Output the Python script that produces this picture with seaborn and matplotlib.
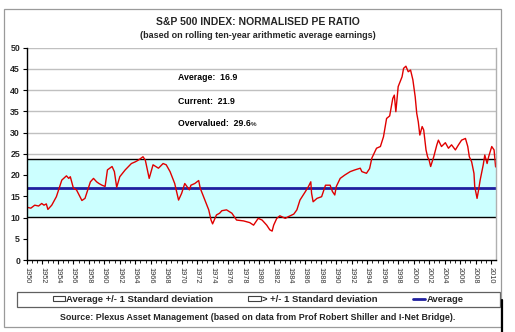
import matplotlib
matplotlib.use("Agg")
import matplotlib.pyplot as plt
from matplotlib.patches import Patch, Rectangle
from matplotlib.lines import Line2D
from matplotlib.ticker import MultipleLocator
import numpy as np
import pandas as pd
import seaborn as sns

# Normalised PE ratio of the S&P 500 (price / rolling ten-year average earnings)
years = [
    1950.0, 1950.5, 1951.0, 1951.5, 1951.9, 1952.2, 1952.5, 1952.7, 1953.2, 1953.8,
    1954.5, 1955.1, 1955.4, 1955.6, 1956.0, 1956.4, 1957.1, 1957.5, 1958.2, 1958.6,
    1959.0, 1959.3, 1959.7, 1960.1, 1960.4, 1961.0, 1961.3, 1961.6, 1962.0, 1962.7,
    1963.5, 1964.0, 1964.4, 1965.0, 1965.3, 1965.8, 1966.3, 1967.0, 1967.6, 1968.0,
    1968.5, 1969.1, 1969.6, 1970.0, 1970.4, 1971.0, 1971.2, 1971.7, 1972.2, 1972.4,
    1973.0, 1973.5, 1973.8, 1974.0, 1974.5, 1974.9, 1975.2, 1975.8, 1976.5, 1977.1,
    1978.0, 1978.8, 1979.3, 1979.9, 1980.4, 1981.0, 1981.4, 1981.7, 1981.9, 1982.3,
    1982.7, 1983.4, 1983.8, 1984.5, 1984.9, 1985.3, 1986.0, 1986.4, 1986.7, 1986.8,
    1987.0, 1987.5, 1988.1, 1988.6, 1989.2, 1989.5, 1989.8, 1990.0, 1990.5, 1991.1,
    1991.8, 1992.4, 1993.1, 1993.3, 1993.9, 1994.3, 1994.6, 1995.2, 1995.7, 1996.1,
    1996.5, 1996.9, 1997.3, 1997.5, 1997.7, 1998.0, 1998.5, 1998.7, 1999.0, 1999.3,
    1999.6, 1999.9, 2000.2, 2000.4, 2000.6, 2000.8, 2001.1, 2001.3, 2001.6, 2001.8,
    2002.0, 2002.2, 2002.6, 2003.0, 2003.2, 2003.6, 2004.1, 2004.5, 2004.9, 2005.4,
    2005.8, 2006.2, 2006.7, 2007.0, 2007.2, 2007.5, 2007.8, 2007.9, 2008.2, 2008.4,
    2008.6, 2009.0, 2009.2, 2009.5, 2009.7, 2010.1, 2010.4, 2010.6,
]
pe_ratio = [
    12.4, 12.2, 12.9, 12.7, 13.3, 12.9, 13.2, 11.9, 12.9, 14.9,
    18.8, 19.8, 19.2, 19.6, 16.9, 16.5, 14.0, 14.5, 18.4, 19.2,
    18.4, 18.0, 17.6, 17.3, 21.2, 22.0, 20.8, 17.1, 19.6, 21.2,
    22.7, 23.1, 23.5, 24.3, 23.5, 19.2, 22.4, 21.6, 22.7, 22.4,
    20.8, 18.0, 14.1, 15.7, 18.0, 16.5, 17.6, 18.0, 18.7, 16.9,
    14.1, 11.8, 9.4, 8.5, 10.6, 11.0, 11.6, 11.8, 11.0, 9.4,
    9.2, 8.8, 8.2, 9.8, 9.4, 8.2, 7.1, 6.8, 8.2, 9.8,
    10.4, 9.8, 10.2, 10.8, 11.8, 14.1, 16.1, 17.3, 18.4, 15.7,
    13.7, 14.5, 14.9, 17.6, 17.6, 16.1, 15.3, 17.3, 19.2, 20.0,
    20.8, 21.2, 21.6, 20.8, 20.4, 21.5, 24.0, 26.3, 26.7, 29.0,
    33.3, 33.9, 38.0, 38.8, 34.9, 40.8, 43.1, 45.1, 45.6, 44.3,
    44.7, 42.4, 38.4, 34.5, 32.5, 29.4, 31.4, 30.6, 25.9, 24.3,
    23.5, 22.0, 24.3, 27.1, 28.2, 26.7, 27.6, 26.3, 27.1, 25.9,
    27.1, 28.2, 28.6, 26.7, 24.3, 23.1, 20.4, 17.3, 14.5, 16.5,
    18.8, 22.4, 24.7, 22.7, 24.3, 26.7, 25.9, 21.9,
]

average = 16.9
std_dev = 6.8
current = 21.9
overvalued_pct = 29.6

year_ticks = list(range(1950, 2011, 2))
y_ticks = list(range(0, 51, 5))

df = pd.DataFrame({"year": years, "pe": pe_ratio})

sns.set_theme(style="white")
plt.rcParams["font.family"] = ["Liberation Sans", "DejaVu Sans"]

W, H = 515, 332
fig = plt.figure(figsize=(W / 100, H / 100), dpi=100)
ax = fig.add_axes([27 / W, 1 - 260 / H, (496 - 27) / W, (260 - 47.5) / H])

# gridlines first, then bands on top so they hide the grid inside
for v in y_ticks[1:]:
    ax.axhline(v, color="#c0c0c0", lw=1.0, zorder=0)

ax.axhspan(0, average - std_dev, color="white", zorder=1, lw=0)
ax.axhspan(average - std_dev, average + std_dev, color="#ccffff", zorder=1, lw=0)
ax.axhline(average + std_dev, color="black", lw=1.0, zorder=2)
ax.axhline(average - std_dev, color="black", lw=1.0, zorder=2)
ax.axhline(average, color="#1f1f9f", lw=2.0, zorder=3)

sns.lineplot(data=df, x="year", y="pe", ax=ax, color="#e00000", lw=1.0,
             zorder=4, legend=False)

ax.set_xlim(1950, 2010.65)
ax.set_ylim(0, 50)
ax.set_xlabel("")
ax.set_ylabel("")

ax.set_yticks(y_ticks)
ax.set_yticklabels([str(v) for v in y_ticks], fontsize=6.3, fontweight="bold")
ax.set_xticks(year_ticks)
ax.set_xticklabels([str(y) for y in year_ticks], rotation=-90, fontsize=5.3,
                   color="#333333")
ax.xaxis.set_minor_locator(MultipleLocator(2 / 3))
ax.tick_params(axis="y", which="major", direction="out", length=3, width=0.8,
               color="black", pad=2, left=True)
ax.tick_params(axis="x", which="major", direction="out", length=3, width=0.8,
               color="black", pad=2, bottom=True)
ax.tick_params(axis="x", which="minor", direction="out", length=2, width=0.6,
               color="black", bottom=True)

for side in ("left", "bottom"):
    ax.spines[side].set_color("black")
    ax.spines[side].set_linewidth(1.0)
ax.spines["top"].set_visible(False)
ax.spines["right"].set_color("#b0b0b0")
ax.spines["right"].set_linewidth(1.0)
for s in ax.spines.values():
    s.set_zorder(5)

# statistics block
stat_kw = dict(fontsize=6.3, fontweight="bold", color="black", va="center",
               ha="left", transform=fig.transFigure)
fig.text(178 / W, 1 - 77 / H, f"Average:  {average}", **stat_kw)
fig.text(178 / W, 1 - 101 / H, f"Current:  {current}", **stat_kw)
t = fig.text(178 / W, 1 - 124 / H, f"Overvalued:  {overvalued_pct}", **stat_kw)
fig.canvas.draw()
bb = t.get_window_extent()
fig.text(bb.x1 / W + 0.5 / W, 1 - 124.5 / H, "%", fontsize=4.5,
         fontweight="bold", va="center", ha="left", transform=fig.transFigure)

# titles
fig.text(258 / W, 1 - 22 / H, "S&P 500 INDEX: NORMALISED PE RATIO",
         fontsize=7.5, fontweight="bold", ha="center", va="center")
fig.text(258 / W, 1 - 35 / H,
         "(based on rolling ten-year arithmetic average earnings)",
         fontsize=6.5, fontweight="bold", ha="center", va="center")

# legend
handles = [
    Patch(facecolor="white", edgecolor="#404040", linewidth=0.8),
    Patch(facecolor="white", edgecolor="#404040", linewidth=0.8),
    Line2D([0], [0], color="#1f1f9f", lw=2.0),
]
labels = ["Average +/- 1 Standard deviation", "> +/- 1 Standard deviation",
          "Average"]
fig.legend(handles, labels, loc="center", bbox_to_anchor=(258 / W, 1 - 299.5 / H),
           ncol=3, frameon=False, prop={"size": 6.8, "weight": "bold"},
           handlelength=1.3, handleheight=0.45, handletextpad=0.15,
           columnspacing=3.7, borderpad=0)
fig.patches.append(Rectangle((17 / W, 1 - 307 / H), 483 / W, 15 / H,
                             transform=fig.transFigure, fill=False,
                             edgecolor="#606060", lw=0.9))

fig.text(258 / W, 1 - 318 / H,
         "Source: Plexus Asset Management (based on data from Prof Robert Shiller and I-Net Bridge).",
         fontsize=6.4, fontweight="bold", ha="center", va="center")

# outer frame
fig.patches.append(Rectangle((4 / W, 1 - 327 / H), 497 / W, 318 / H,
                             transform=fig.transFigure, fill=False,
                             edgecolor="#9a9a9a", lw=0.9))
fig.lines.append(Line2D([501.5 / W, 501.5 / W], [1 - 332 / H, 1 - 300 / H],
                        transform=fig.transFigure, color="black", lw=1.6))

fig.savefig("out.png", dpi=100)
